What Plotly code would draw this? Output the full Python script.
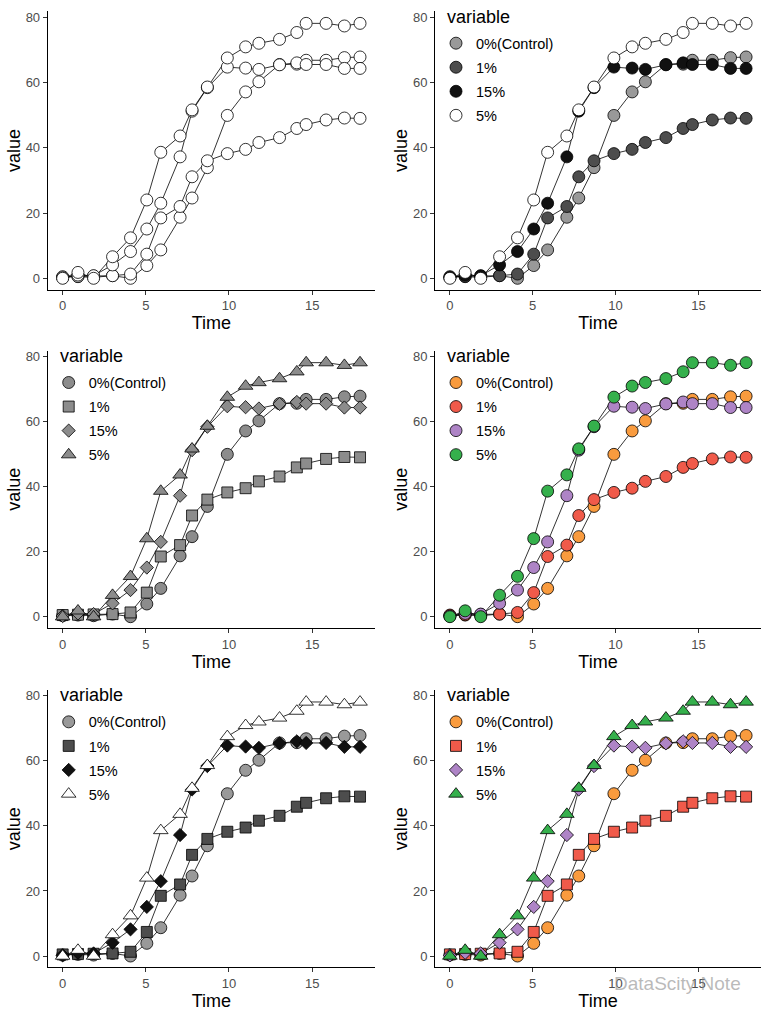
import plotly.graph_objects as go

# ---------------- data ----------------
time = [0, 0.92, 1.86, 3.0, 4.08, 5.06, 5.9, 7.06, 7.78, 8.7, 9.9, 11.0, 11.8,
        13.04, 14.08, 14.64, 15.84, 16.94, 17.88]
variables = ["0%(Control)", "1%", "15%", "5%"]
control = [0.3, 0.5, 0.3, 0.8, 0.0, 3.9, 8.7, 18.7, 24.6, 33.9, 49.9, 57.1, 60.2,
           65.5, 65.6, 66.8, 66.8, 67.6, 67.8]
one_pct = [0.5, 0.6, 0.7, 0.8, 1.3, 7.4, 18.5, 22.0, 31.1, 36.0, 38.2, 39.5, 41.6,
           43.1, 45.9, 47.1, 48.5, 49.1, 49.0]
fifteen_pct = [0.2, 1.0, 0.8, 4.1, 8.2, 15.1, 23.0, 37.2, 51.2, 58.4, 64.7, 64.4, 64.0,
               65.4, 66.0, 65.5, 65.5, 64.3, 64.3]
five_pct = [0.0, 1.8, 0.0, 6.6, 12.4, 24.0, 38.6, 43.6, 51.6, 58.6, 67.5, 70.9, 72.0,
            73.2, 75.3, 78.1, 78.1, 77.3, 78.1]
series = [control, one_pct, fifteen_pct, five_pct]

x_ticks = [0, 5, 10, 15]
y_ticks = [0, 20, 40, 60, 80]

# ---------------- styles per panel ----------------
grey_fill = ["#999999", "#4D4D4D", "#111111", "#FFFFFF"]
color_fill = ["#F99B3E", "#F05A4A", "#AE84C6", "#35B04C"]
panels = [
    dict(fills=["#FFFFFF"] * 4, symbols=["circle"] * 4, legend=None),
    dict(fills=grey_fill, symbols=["circle"] * 4, legend="legend2"),
    dict(fills=["#8C8C8C"] * 4, symbols=["circle", "square", "diamond", "triangle-up"], legend="legend3"),
    dict(fills=color_fill, symbols=["circle"] * 4, legend="legend4"),
    dict(fills=grey_fill, symbols=["circle", "square", "diamond", "triangle-up"], legend="legend5"),
    dict(fills=color_fill, symbols=["circle", "square", "diamond", "triangle-up"], legend="legend6"),
]
sym_size = {"circle": 12, "square": 11, "diamond": 10.2, "triangle-up": 12.7}

W, H = 767, 1017
col_px = [(47.7, 375.0), (435.0, 761.0)]
row_px = [(9.3, 288.3), (349.3, 627.3), (689.3, 967.3)]

FONT = "Liberation Sans, Arial, sans-serif"
fig = go.Figure()

layout = dict(width=W, height=H, margin=dict(l=0, r=0, t=0, b=0),
              paper_bgcolor="white", plot_bgcolor="white",
              font=dict(family=FONT), showlegend=True)
annotations = []

for i, p in enumerate(panels):
    r, c = divmod(i, 2)
    ax = "" if i == 0 else str(i + 1)
    xa, ya = "x" + ax, "y" + ax
    x0, x1 = col_px[c]
    y0, y1 = row_px[r]
    common = dict(showline=True, linecolor="black", linewidth=1, ticks="outside",
                  ticklen=4, tickcolor="#333333", tickwidth=1, showgrid=False,
                  zeroline=False, tickfont=dict(size=13, color="#4D4D4D", family=FONT))
    layout["xaxis" + ax] = dict(domain=[x0 / W, x1 / W], anchor=ya, range=[-0.9, 18.78],
                                tickvals=x_ticks,
                                title=dict(text="Time", font=dict(size=18, color="black"), standoff=3),
                                **common)
    layout["yaxis" + ax] = dict(domain=[1 - y1 / H, 1 - y0 / H], anchor=xa, range=[-3.5, 81.8],
                                tickvals=y_ticks,
                                title=dict(text="value", font=dict(size=18, color="black"), standoff=0),
                                **common)
    # lines first (as in geom_line under geom_point)
    for vals in series:
        fig.add_trace(go.Scatter(x=time, y=vals, mode="lines", xaxis=xa, yaxis=ya,
                                 line=dict(color="black", width=0.8), showlegend=False,
                                 hoverinfo="skip"))
    for name, vals, fill, sym in zip(variables, series, p["fills"], p["symbols"]):
        kw = dict(legend=p["legend"], legendgroup=f"{i}-{name}") if p["legend"] else dict(showlegend=False)
        fig.add_trace(go.Scatter(x=time, y=vals, mode="markers", name=name, xaxis=xa, yaxis=ya,
                                 marker=dict(symbol=sym, size=sym_size[sym], color=fill,
                                             line=dict(color="black", width=0.8)),
                                 **kw))
    if p["legend"]:
        layout[p["legend"]] = dict(
            x=(x0 + 1) / W, y=1 - (y0 + 16) / H, xanchor="left", yanchor="top",
            bgcolor="rgba(0,0,0,0)", font=dict(size=14.5, color="black", family=FONT),
            itemsizing="trace", traceorder="grouped", tracegroupgap=2.2)
        annotations.append(dict(x=(x0 + 10) / W, y=1 - (y0 + 5.5) / H, xref="paper", yref="paper",
                                xanchor="left", yanchor="middle", showarrow=False,
                                text="variable", font=dict(size=18, color="black", family=FONT)))

annotations.append(dict(x=677 / W, y=1 - 983 / H, xref="paper", yref="paper",
                        xanchor="center", yanchor="middle",
                        text="DataScity Note", showarrow=False,
                        font=dict(size=19, color="rgba(140,140,140,0.6)", family=FONT)))
layout["annotations"] = annotations
fig.update_layout(**layout)

fig.write_html("out.html", config={"displayModeBar": False},
               post_script="document.body.style.margin='0';document.body.style.padding='0';")
